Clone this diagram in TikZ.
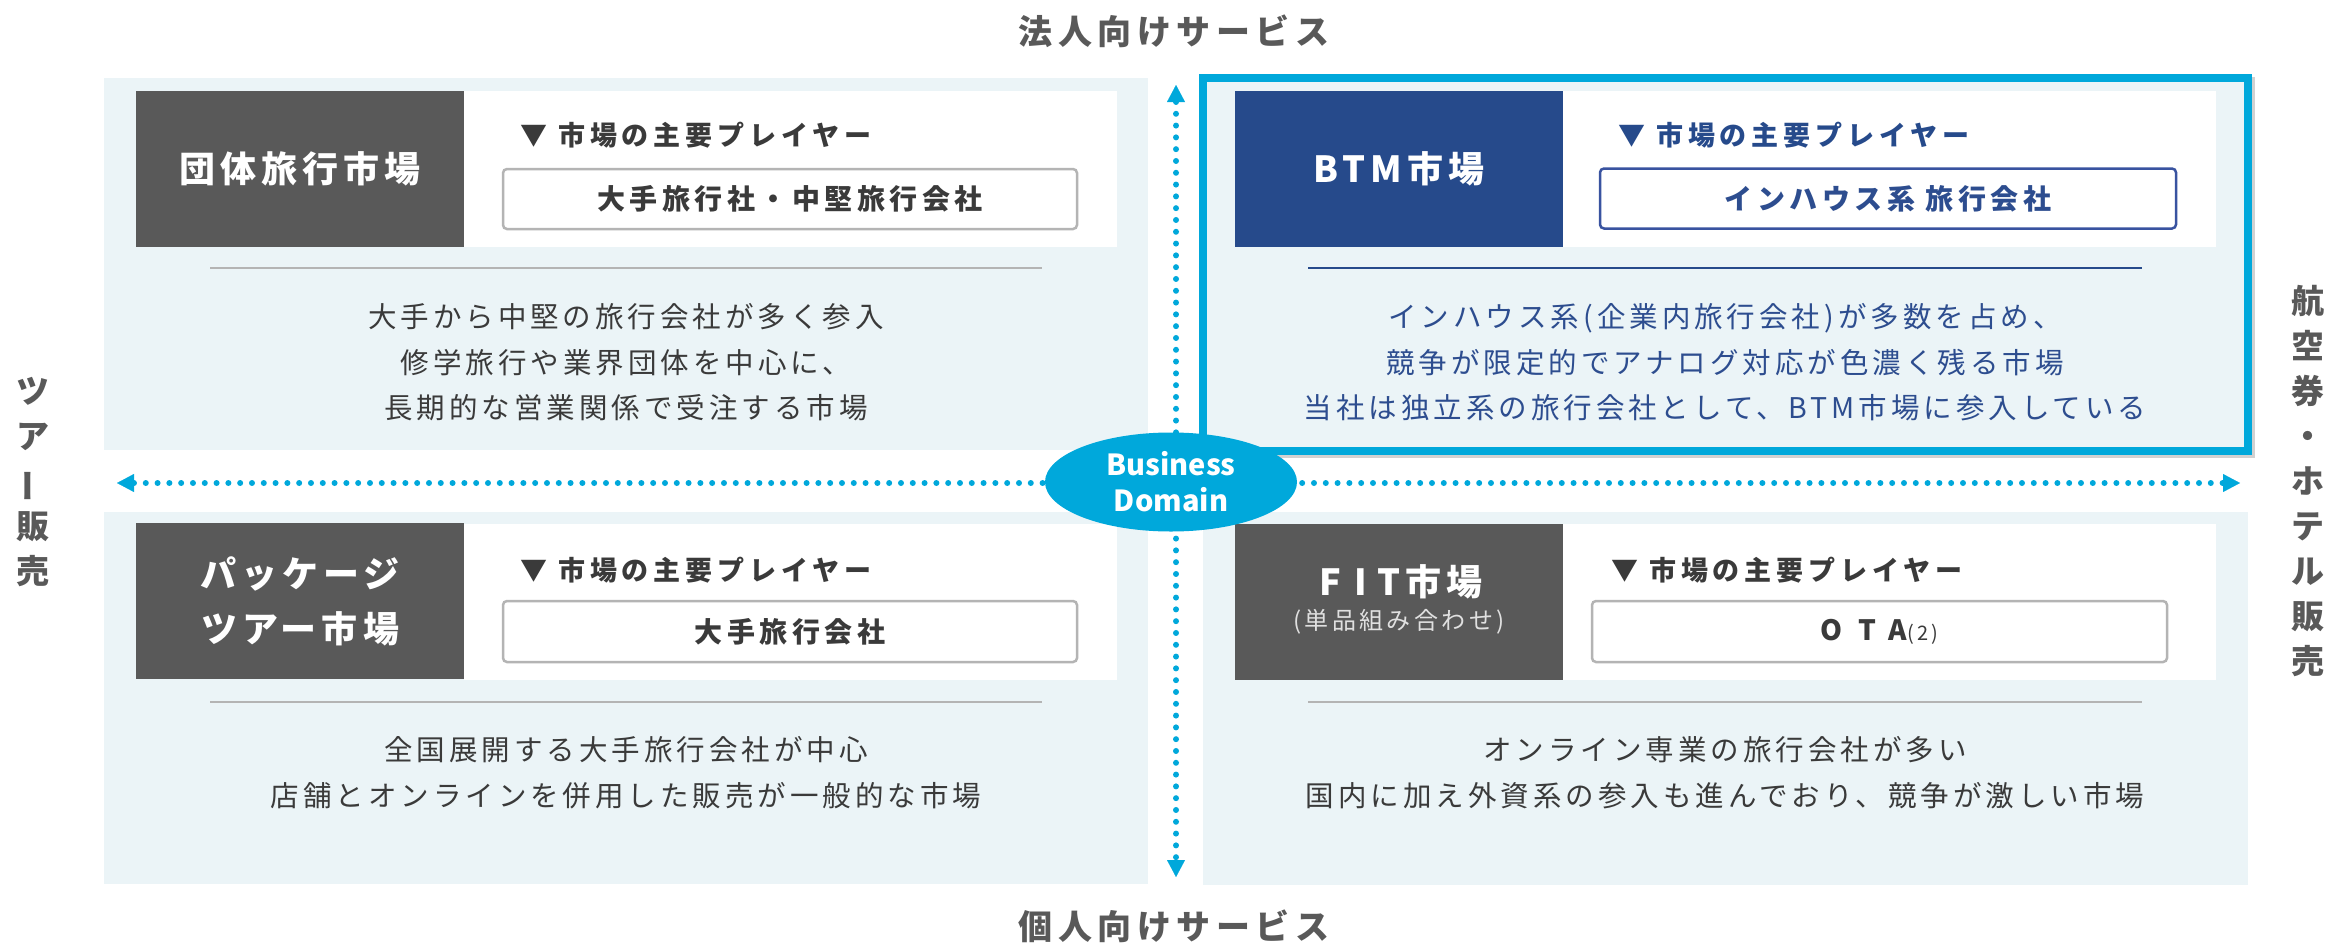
\documentclass[tikz,border=0pt]{standalone}
\usepackage{fontspec}
\usepackage{graphicx}
\setmainfont{Noto Sans CJK JP}
\newfontfamily\jpA{Noto Sans CJK JP}[LetterSpace=14]
\newfontfamily\jpB{Noto Sans CJK JP}[LetterSpace=18]
\newfontfamily\jpC{Noto Sans CJK JP}[LetterSpace=16]
\usetikzlibrary{arrows.meta,shapes.geometric}

\definecolor{cyanA}{HTML}{00A8DB}
\definecolor{navyA}{HTML}{264A8B}
\definecolor{darkA}{HTML}{595959}
\definecolor{panelA}{HTML}{EBF4F7}
\definecolor{sepA}{HTML}{B4B4B4}
\definecolor{txtA}{HTML}{3A3A3A}
\definecolor{lblA}{HTML}{595959}
\definecolor{blueT}{HTML}{2D4D8F}
\definecolor{blueB}{HTML}{3953A0}

\tikzset{
  box/.style={inner sep=0pt, outer sep=0pt, draw=none},
  panelbox/.style={box, fill=panelA, minimum width=1045, minimum height=373},
  whitebox/.style={box, fill=white, minimum width=653, minimum height=156},
  darkbox/.style={box, fill=darkA, minimum width=328, minimum height=156, text=white, align=center,
    font=\jpA\bfseries\fontsize{36}{55}\selectfont},
  navybox/.style={darkbox, fill=navyA},
  header/.style={anchor=west, inner sep=0pt, text=txtA, font=\jpB\bfseries\fontsize{27}{30}\selectfont},
  player/.style={box, draw=sepA, line width=2.5pt, fill=white, rounded corners=4pt, minimum height=60,
    minimum width=574, text=txtA, font=\jpC\bfseries\fontsize{28}{30}\selectfont},
  sepline/.style={line width=2.5pt, draw=sepA},
  body/.style={inner sep=0pt, align=center, text=txtA, font=\jpA\fontsize{28.5}{45.5}\selectfont},
  sidelbl/.style={inner sep=0pt, align=center, text=lblA, font=\jpA\bfseries\fontsize{33}{45}\selectfont},
  toplbl/.style={inner sep=0pt, text=lblA, font=\jpC\bfseries\fontsize{34}{40}\selectfont},
  tip/.style={Triangle[length=17pt,width=18pt,line width=0.1pt,fill=cyanA]},
  axis/.style={draw=cyanA, line width=6pt, line cap=round, dash pattern=on 0pt off 11.8pt},
}

\begin{document}
\begin{tikzpicture}[x=1pt,y=-1pt]
\useasboundingbox (0,0) rectangle (2331,945);

% ---------- panels ----------
\node[panelbox, minimum width=1044, minimum height=372] (pTL) at (626,264) {};
\node[panelbox, minimum width=1044, minimum height=372] (pBL) at (626,698) {};
\node[panelbox] (pBR) at (1725.5,698) {};
\draw[black!18, line width=8pt] (1206,81) rectangle (2251,454);
\node[panelbox, draw=cyanA, line width=8pt] (pTR) at (1725.5,264.5) {};

% ---------- axes ----------
\coordinate (AL) at (117,483);
\coordinate (AR) at (2240,483);
\coordinate (AT) at (1176,85);
\coordinate (AB) at (1176,877);
\draw[axis, {Triangle[length=17pt,width=18pt,line width=0.1pt,fill=cyanA]}-{Triangle[length=17pt,width=18pt,line width=0.1pt,fill=cyanA]}] (AT) -- (AB);
\draw[axis, {Triangle[length=17pt,width=18pt,line width=0.1pt,fill=cyanA]}-{Triangle[length=17pt,width=18pt,line width=0.1pt,fill=cyanA]}] (AL) -- (AR);

% ---------- top left ----------
\node[whitebox] (wTL) at (790.5,169) {};
\node[darkbox] (tTL) at (300,169) {団体旅行市場};
\node[header] (hTL) at (520,135) {▼ 市場の主要プレイヤー};
\node[player] (kTL) at (790,199) {大手旅行社・中堅旅行会社};
\draw[sepline] (210,268) -- (1042,268);
\node[body] (bTL) at (626,362.5) {大手から中堅の旅行会社が多く参入\\修学旅行や業界団体を中心に、\\長期的な営業関係で受注する市場};

% ---------- top right ----------
\node[whitebox] (wTR) at (1889.5,169) {};
\node[navybox] (tTR) at (1399,169) {BTM市場};
\node[header, text=navyA] (hTR) at (1618,135) {▼ 市場の主要プレイヤー};
\node[player, draw=blueB, text=blueT, minimum width=576] (kTR) at (1888,198.5) {インハウス系 旅行会社};
\draw[sepline, draw=navyA] (1308,268) -- (2142,268);
\node[body, text=blueT] (bTR) at (1725,362.5) {インハウス系(企業内旅行会社)が多数を占め、\\競争が限定的でアナログ対応が色濃く残る市場\\当社は独立系の旅行会社として、BTM市場に参入している};

% ---------- bottom left ----------
\node[whitebox] (wBL) at (790.5,602) {};
\node[darkbox] (tBL) at (300,601) {パッケージ\\ツアー市場};
\node[header] (hBL) at (520,570) {▼ 市場の主要プレイヤー};
\node[player, minimum height=61] (kBL) at (790,631.5) {大手旅行会社};
\draw[sepline] (210,702) -- (1042,702);
\node[body] (bBL) at (626,772.5) {全国展開する大手旅行会社が中心\\店舗とオンラインを併用した販売が一般的な市場};

% ---------- bottom right ----------
\node[whitebox] (wBR) at (1889.5,602) {};
\node[darkbox] (tBR) at (1399,602) {};
\node[inner sep=0pt, text=white, font=\jpA\bfseries\fontsize{36}{40}\selectfont] (tBR1) at (1401,582) {F\kern14pt I\kern10pt T市場};
\node[inner sep=0pt, text=black!12, font=\jpA\fontsize{24}{28}\selectfont] (tBR2) at (1399,622) {(単品組み合わせ)};
\node[header] (hBR) at (1611,570) {▼ 市場の主要プレイヤー};
\node[player, minimum width=575, minimum height=61] (kBR) at (1879.5,631.5) {O\kern16pt T\kern12pt A{\mdseries\fontsize{20}{22}\selectfont(2)}};
\draw[sepline] (1308,702) -- (2142,702);
\node[body] (bBR) at (1725,772.5) {オンライン専業の旅行会社が多い\\国内に加え外資系の参入も進んでおり、競争が激しい市場};

% ---------- center ellipse ----------
\node[ellipse, fill=cyanA, minimum width=252, minimum height=99, inner sep=0pt, text=white, align=center,
  font=\bfseries\fontsize{29}{36}\selectfont] (bd) at (1171,482) {Business\\Domain};

% ---------- labels ----------
\node[toplbl] (lTop) at (1174,31) {法人向けサービス};
\node[toplbl] (lBot) at (1174,926) {個人向けサービス};
\node[sidelbl] (lLeft) at (33,482.5) {ツ\\ア\\\rotatebox[origin=c]{90}{ー}\\販\\売};
\node[sidelbl] (lRight) at (2308,481) {航\\空\\券\\・\\ホ\\テ\\ル\\販\\売};
\end{tikzpicture}
\end{document}
